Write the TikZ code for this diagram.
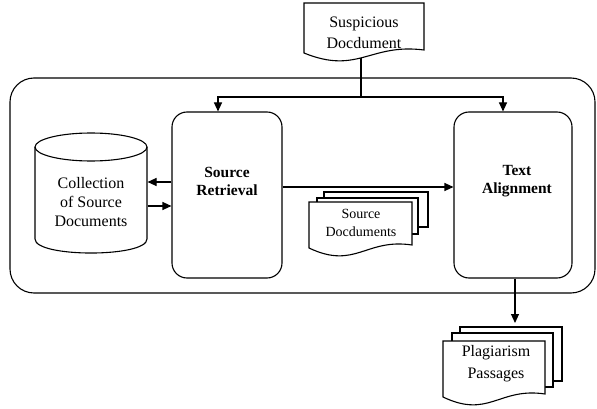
\documentclass[tikz,border=0pt]{standalone}
\usepackage{fontspec}
\setmainfont{Liberation Serif}
\usetikzlibrary{calc,arrows.meta}
\newcommand\docshape[4]{%
  \draw[fill=white] ($(#1)+({-#2},{-#3})$) -- ($(#1)+({#2},{-#3})$) -- ($(#1)+({#2},{#4-3})$)
    .. controls ($(#1)+({0.1*#2},{#4-10})$) and ($(#1)+({-0.1*#2},{#4+22})$) .. ($(#1)+({-#2},{#4})$) -- cycle;}
\begin{document}
\begin{tikzpicture}[x=1pt,y=-1pt, line width=1.1pt,
  arr/.style={-{Triangle[length=9pt,width=8pt]}},
  box/.style={draw, rounded corners=15pt, fill=white, inner sep=0pt},
  txt/.style={align=center, font=\fontsize{16}{20}\selectfont, inner sep=0pt},
  btxt/.style={align=center, inner sep=0pt, font=\fontsize{15.5}{18}\selectfont\bfseries},
  sheet/.style={draw, fill=white}]
\fill[white] (0,0) rectangle (597,409);
\useasboundingbox (0,0) rectangle (597,409);
% system frame
\node[draw, rounded corners=24pt, minimum width=585pt, minimum height=215pt, inner sep=0pt] (sys) at (302.5,185.5) {};
% process boxes
\node[box, minimum width=110pt, minimum height=166pt] (sr) at (227,195) {};
\node[box, minimum width=118pt, minimum height=166pt] (ta) at (513,195) {};
\node[btxt] (srt) at (227,181) {Source\\Retrieval};
\node[btxt] (tat) at (517,181) {Text\\Alignment};
% cylinder
\draw[fill=white] (35,147) -- (35,239) .. controls (35,257.7) and (147,257.7) .. (147,239) -- (147,147);
\draw (91,147) ellipse [x radius=56pt, y radius=14pt];
\node[txt, minimum width=112pt, font=\fontsize{16}{19}\selectfont] (col) at (91,202) {Collection\\of Source\\Documents};
% connectors
\coordinate (j) at (361,97);
\coordinate (stem) at (361,55);
\coordinate (pt) at (515,323);
\draw (stem) -- (j);
\draw[arr] (j) -| ([xshift=-9pt]sr.north);
\draw[arr] (j) -| ([xshift=-10pt]ta.north);
\draw[arr] (sr.west |- 0,182) -- (col.east |- 0,182);
\draw[arr] (col.east |- 0,206) -- (sr.west |- 0,206);
\draw[arr] (sr.east |- 0,187) -- (ta.west |- 0,187);
\draw[arr] (ta.south -| pt) -- (pt);
% suspicious document
\coordinate (susc) at (364,33);
\docshape{susc}{60}{30}{20}
\node[txt, font=\fontsize{16}{21}\selectfont] (sus) at (364,33) {Suspicious\\Docdument};
% source documents stack
\draw[sheet] (324,192) rectangle (428,227);
\draw[sheet] (317,198) rectangle (418,234);
\coordinate (sdc) at (360.5,223);
\docshape{sdc}{51.5}{21}{25}
\node[txt, font=\fontsize{14}{18}\selectfont] (sdoc) at (361,223) {Source\\Docduments};
% plagiarism passages stack
\draw[sheet] (460,327) rectangle (562,381);
\draw[sheet] (452,333) rectangle (553,387);
\coordinate (plc) at (494,364);
\docshape{plc}{51}{23}{33}
\node[txt, font=\fontsize{16}{22}\selectfont] (plag) at (496,364) {Plagiarism\\Passages};
\end{tikzpicture}
\end{document}
